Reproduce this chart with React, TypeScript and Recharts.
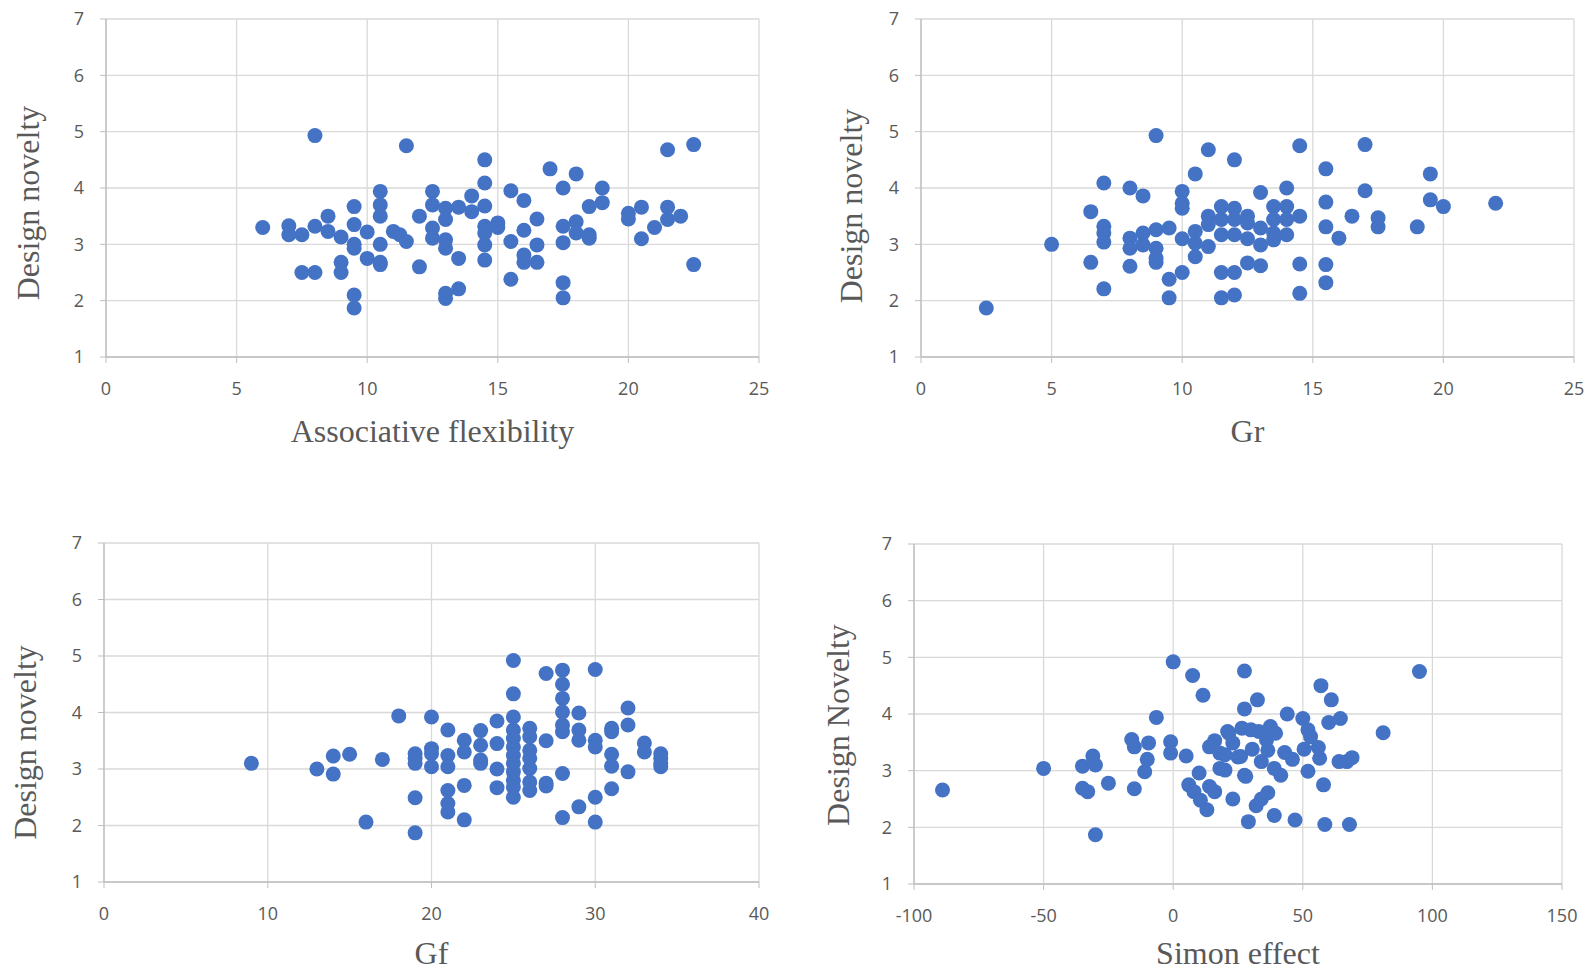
import { ScatterChart, Scatter, XAxis, YAxis, CartesianGrid, Label } from 'recharts';

const noveltyTicks = [1, 2, 3, 4, 5, 6, 7];
const assocTicks = [0, 5, 10, 15, 20, 25];
const grTicks = [0, 5, 10, 15, 20, 25];
const gfTicks = [0, 10, 20, 30, 40];
const simonTicks = [-100, -50, 0, 50, 100, 150];

const assocFlex = [6, 7, 7, 7.5, 7.5, 8, 8, 8, 8.5, 8.5, 9, 9, 9, 9.5, 9.5, 9.5, 9.5, 9.5, 9.5, 10, 10, 10.5, 10.5, 10.5, 10.5, 10.5, 10.5, 11, 11.25, 11.5, 11.5, 12, 12, 12.5, 12.5, 12.5, 12.5, 13, 13, 13, 13, 13, 13, 13.5, 13.5, 13.5, 14, 14, 14.5, 14.5, 14.5, 14.5, 14.5, 14.5, 14.5, 15, 15, 15.5, 15.5, 15.5, 16, 16, 16, 16, 16.5, 16.5, 16.5, 17, 17.5, 17.5, 17.5, 17.5, 17.5, 18, 18, 18, 18.5, 18.5, 18.5, 19, 19, 20, 20, 20.5, 20.5, 21, 21.5, 21.5, 21.5, 22, 22.5, 22.5];
const assocNovelty = [3.3, 3.33, 3.17, 3.17, 2.5, 2.5, 3.32, 4.93, 3.5, 3.23, 3.13, 2.68, 2.5, 3.67, 3.35, 3.0, 2.93, 2.1, 1.87, 3.22, 2.75, 3.94, 3.7, 3.5, 3.0, 2.68, 2.64, 3.23, 3.17, 3.05, 4.75, 3.5, 2.6, 3.94, 3.7, 3.29, 3.11, 3.64, 3.44, 3.08, 2.93, 2.13, 2.04, 3.66, 2.75, 2.21, 3.86, 3.58, 4.5, 4.09, 3.68, 3.32, 3.2, 2.99, 2.72, 3.38, 3.3, 3.95, 3.05, 2.38, 3.78, 3.25, 2.81, 2.68, 3.45, 2.99, 2.68, 4.34, 4.0, 3.32, 3.03, 2.32, 2.05, 4.25, 3.4, 3.2, 3.67, 3.17, 3.11, 3.74, 4.0, 3.55, 3.45, 3.66, 3.1, 3.3, 4.68, 3.66, 3.44, 3.5, 4.77, 2.64];

const grScores = [2.5, 5, 6.5, 6.5, 7, 7, 7, 7, 7, 8, 8, 8, 8, 8.5, 8.5, 8.5, 9, 9, 9, 9, 9, 9.5, 9.5, 9.5, 10, 10, 10, 10, 10, 10.5, 10.5, 10.5, 10.5, 11, 11, 11, 11, 11.5, 11.5, 11.5, 11.5, 11.5, 12, 12, 12, 12, 12, 12, 12.5, 12.5, 12.5, 12.5, 13, 13, 13, 13, 13.5, 13.5, 13.5, 13.5, 14, 14, 14, 14, 14.5, 14.5, 14.5, 14.5, 15.5, 15.5, 15.5, 15.5, 15.5, 16, 16.5, 17, 17, 17.5, 17.5, 19, 19.5, 19.5, 20, 22];
const grNovelty = [1.87, 3.0, 3.58, 2.68, 4.09, 3.32, 3.2, 3.04, 2.21, 4.0, 3.11, 2.93, 2.61, 3.86, 3.2, 2.99, 4.93, 3.26, 2.93, 2.75, 2.68, 3.29, 2.38, 2.05, 3.94, 3.73, 3.64, 3.1, 2.5, 4.25, 3.23, 3.02, 2.78, 4.68, 3.5, 3.35, 2.96, 3.67, 3.44, 3.17, 2.5, 2.05, 4.5, 3.64, 3.44, 3.17, 2.5, 2.1, 3.5, 3.38, 3.1, 2.67, 3.92, 3.29, 2.99, 2.62, 3.67, 3.44, 3.2, 3.08, 4.0, 3.67, 3.44, 3.17, 4.75, 3.5, 2.65, 2.13, 4.34, 3.75, 3.31, 2.64, 2.32, 3.11, 3.5, 4.77, 3.95, 3.47, 3.31, 3.31, 4.25, 3.79, 3.67, 3.73];

const gfScores = [9, 13, 14, 14, 15, 16, 17, 18, 19, 19, 19, 19, 19, 20, 20, 20, 20, 21, 21, 21, 21, 21, 21, 22, 22, 22, 22, 23, 23, 23, 23, 24, 24, 24, 24, 25, 25, 25, 25, 25, 25, 25, 25, 25, 25, 25, 25, 26, 26, 26, 26, 26, 26, 26, 27, 27, 27, 27, 28, 28, 28, 28, 28, 28, 28, 28, 29, 29, 29, 29, 30, 30, 30, 30, 30, 31, 31, 31, 31, 31, 32, 32, 32, 33, 33, 34, 34, 34, 34];
const gfNovelty = [3.1, 3.0, 3.23, 2.91, 3.26, 2.06, 3.17, 3.94, 3.27, 3.19, 3.1, 2.49, 1.87, 3.92, 3.36, 3.27, 3.04, 3.69, 3.24, 3.04, 2.62, 2.39, 2.24, 3.51, 3.3, 2.71, 2.1, 3.68, 3.42, 3.16, 3.1, 3.85, 3.45, 3.0, 2.67, 4.92, 4.33, 3.92, 3.69, 3.54, 3.39, 3.24, 3.1, 2.95, 2.8, 2.68, 2.5, 3.72, 3.57, 3.33, 3.19, 3.01, 2.77, 2.62, 4.69, 3.5, 2.75, 2.7, 4.75, 4.5, 4.25, 4.01, 3.78, 3.66, 2.92, 2.14, 3.99, 3.69, 3.51, 2.33, 4.76, 3.51, 3.39, 2.5, 2.06, 3.72, 3.66, 3.26, 3.05, 2.65, 4.08, 3.78, 2.95, 3.46, 3.3, 3.27, 3.19, 3.1, 3.04];

const simonEffect = [-89, -50, -35, -35, -33, -31, -30, -30, -25, -16, -15, -15, -9.5, -10, -11, -6.5, -1, -1, 0, 5, 6, 7.5, 8, 10, 10.5, 11.5, 13, 14, 14, 16, 16, 18, 18, 20, 20, 21, 21.5, 23, 23, 25, 26, 26.5, 27.5, 27.5, 27.5, 28, 29, 30, 30.5, 32, 32.5, 33, 34, 34, 36, 36.5, 36.5, 37.5, 39, 39.5, 39, 41.5, 43, 44, 46, 47, 50, 50.5, 52, 53, 52, 56, 56.5, 57, 58, 58.5, 60, 61, 64, 64.5, 67, 68, 69, 81, 95];
const simonNovelty = [2.66, 3.04, 3.08, 2.69, 2.63, 3.26, 3.1, 1.87, 2.78, 3.55, 3.42, 2.68, 3.49, 3.2, 2.98, 3.94, 3.51, 3.31, 4.92, 3.26, 2.75, 4.68, 2.63, 2.96, 2.48, 4.33, 2.31, 2.72, 3.42, 2.63, 3.53, 3.31, 3.04, 3.01, 3.28, 3.69, 3.66, 2.5, 3.49, 3.24, 3.25, 3.75, 4.09, 4.76, 2.92, 2.9, 2.1, 3.72, 3.38, 2.38, 4.25, 3.69, 3.16, 2.5, 3.54, 3.36, 2.61, 3.78, 3.04, 3.66, 2.21, 2.92, 3.32, 4.0, 3.2, 2.13, 3.92, 3.38, 3.72, 3.6, 2.99, 3.41, 3.22, 4.5, 2.75, 2.05, 3.85, 4.25, 3.16, 3.92, 3.16, 2.05, 3.23, 3.67, 4.75];

const toPoints = (xs: number[], ys: number[]) => xs.map((x, i) => ({ x, y: ys[i] }));

const GRID = '#d9d9d9';
const AXIS = '#bfbfbf';
const TEXT = '#595959';
const DOT = '#4472c4';
const tickStyle = { fill: TEXT, fontSize: 18, fontFamily: '"Open Sans", sans-serif' };
const titleStyle = { fill: TEXT, fontSize: 32, fontFamily: '"Liberation Serif", serif' };

// Excel-style marker, a bit larger than recharts' default symbol
const Dot = (props: any) => <circle cx={props.cx} cy={props.cy} r={7.5} fill={DOT} />;

interface PanelProps {
  data: { x: number; y: number }[];
  xTicks: number[];
  xTitle: string;
  yTitle: string;
  left: number;
  top: number;
  width: number;
  height: number;
  margin: { top: number; right: number; bottom: number; left: number };
  yAxisWidth: number;
  xTitleDy: number;
  yTitleDx: number;
  yTitleDy: number;
}

function Panel(p: PanelProps) {
  return (
    <div style={{ position: 'absolute', left: p.left, top: p.top }}>
      <ScatterChart width={p.width} height={p.height} margin={p.margin}>
        <CartesianGrid stroke={GRID} strokeWidth={1.3} />
        <XAxis
          type="number"
          dataKey="x"
          domain={[p.xTicks[0], p.xTicks[p.xTicks.length - 1]]}
          ticks={p.xTicks}
          interval={0}
          height={80}
          axisLine={{ stroke: AXIS, strokeWidth: 1.3 }}
          tickLine={{ stroke: AXIS }}
          tickSize={6}
          tickMargin={19}
          tick={tickStyle}
        >
          <Label value={p.xTitle} position="center" dy={p.xTitleDy} style={titleStyle} />
        </XAxis>
        <YAxis
          type="number"
          dataKey="y"
          domain={[1, 7]}
          ticks={noveltyTicks}
          interval={0}
          width={p.yAxisWidth}
          axisLine={{ stroke: AXIS, strokeWidth: 1.3 }}
          tickLine={{ stroke: AXIS }}
          tickSize={6}
          tickMargin={16}
          tick={tickStyle}
        >
          <Label value={p.yTitle} angle={-90} position="center" dx={p.yTitleDx} dy={p.yTitleDy} style={titleStyle} />
        </YAxis>
        <Scatter data={p.data} fill={DOT} shape={Dot} isAnimationActive={false} />
      </ScatterChart>
    </div>
  );
}

export default function App() {
  return (
    <div style={{ position: 'absolute', left: 0, top: 0, width: 1592, height: 973, background: '#fff' }}>
      <Panel
        data={toPoints(assocFlex, assocNovelty)}
        xTicks={assocTicks}
        xTitle="Associative flexibility"
        yTitle="Design novelty"
        left={0} top={0} width={800} height={470}
        margin={{ top: 19, right: 41, bottom: 33, left: 0 }}
        yAxisWidth={106}
        xTitleDy={34}
        yTitleDx={-25} yTitleDy={15}
      />
      <Panel
        data={toPoints(grScores, grNovelty)}
        xTicks={grTicks}
        xTitle="Gr"
        yTitle="Design novelty"
        left={800} top={0} width={792} height={470}
        margin={{ top: 19, right: 18, bottom: 33, left: 0 }}
        yAxisWidth={121}
        xTitleDy={34}
        yTitleDx={-10} yTitleDy={18}
      />
      <Panel
        data={toPoints(gfScores, gfNovelty)}
        xTicks={gfTicks}
        xTitle="Gf"
        yTitle="Design novelty"
        left={0} top={470} width={800} height={503}
        margin={{ top: 73, right: 41, bottom: 11, left: 0 }}
        yAxisWidth={104}
        xTitleDy={31}
        yTitleDx={-27} yTitleDy={30}
      />
      <Panel
        data={toPoints(simonEffect, simonNovelty)}
        xTicks={simonTicks}
        xTitle="Simon effect"
        yTitle="Design Novelty"
        left={800} top={470} width={792} height={503}
        margin={{ top: 74, right: 30, bottom: 9, left: 0 }}
        yAxisWidth={114}
        xTitleDy={29}
        yTitleDx={-19} yTitleDy={11}
      />
    </div>
  );
}
